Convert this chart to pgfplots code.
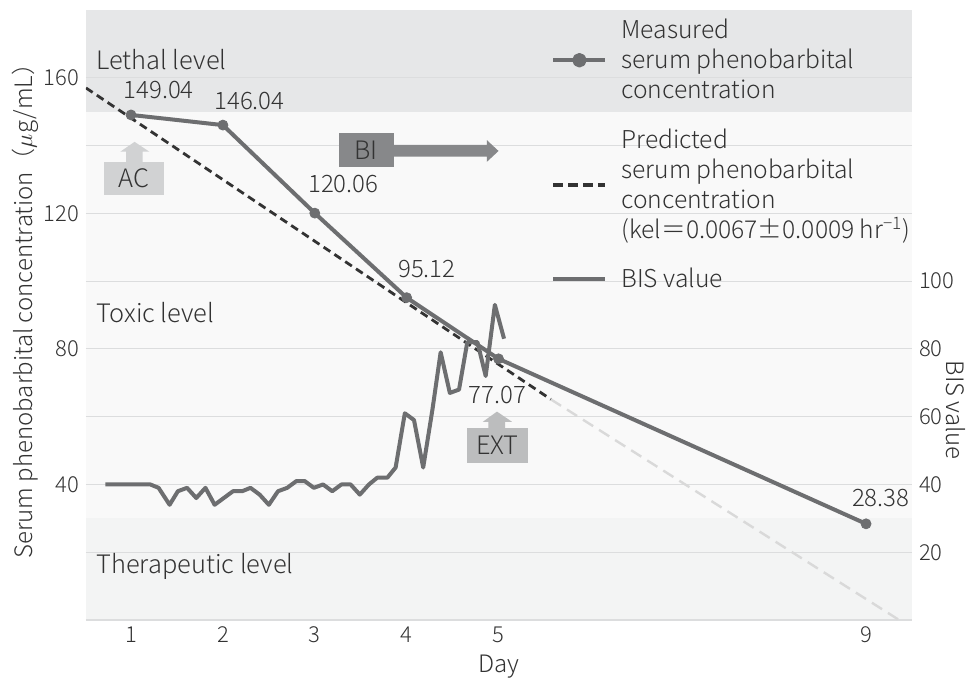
\documentclass[border=0pt]{standalone}
\usepackage{fontspec}
\IfFontExistsTF{Noto Sans CJK JP Light}{\setmainfont{Noto Sans CJK JP Light}}{\setmainfont{Noto Sans CJK JP}}
\usepackage{pgfplots}
\pgfplotsset{compat=1.18}
\definecolor{txt}{HTML}{333333}
\definecolor{lethal}{HTML}{E6E7E8}
\definecolor{toxic}{HTML}{F9F9F9}
\definecolor{thera}{HTML}{F3F4F4}
\definecolor{gridc}{HTML}{DCDDDE}
\definecolor{linec}{HTML}{6D6E70}
\definecolor{acbox}{HTML}{D1D2D3}
\definecolor{extbox}{HTML}{BCBDBE}
\definecolor{bibox}{HTML}{87888A}
\definecolor{pred}{HTML}{333333}
\definecolor{predlight}{HTML}{D9D9D9}

\begin{document}
\begin{tikzpicture}[font=\fontsize{12}{15}\selectfont, text=txt]
\begin{axis}[
  name=main,
  set layers=standard,
  width=413pt, height=305pt, scale only axis,
  xmin=0.51, xmax=9.5, ymin=0, ymax=180,
  axis line style={draw=none},
  tick style={draw=none},
  xtick={1,2,3,4,5,9},
  ytick={0,20,...,160},
  yticklabels={,,40,,80,,120,,160},
  ymajorgrids=true,
  grid style={gridc, line width=0.6pt},
  /pgf/number format/assume math mode=true,
  ticklabel style={font=\fontsize{11}{13}\selectfont, text=txt},
  xlabel={Day},
  xlabel style={at={(rel axis cs:0.5,-0.077)}, anchor=center},
  ylabel={Serum phenobarbital concentration（$\mu$g/mL）},
  ylabel style={at={(rel axis cs:-0.0738,0.516)}, anchor=center},
  legend cell align=left,
  legend style={draw=none, fill=none, at={(rel axis cs:0.563,0.986)}, anchor=north west,
    inner sep=0pt, row sep=13.5pt, column sep=7pt,
    nodes={inner sep=0pt},
    cells={anchor=west, align=left},
    font=\fontsize{12.3}{15}\selectfont, text=txt},
]
\begin{pgfonlayer}{axis background}
\fill[thera] (axis cs:0.51,0) rectangle (axis cs:9.5,30);
\fill[toxic] (axis cs:0.51,30) rectangle (axis cs:9.5,150);
\fill[lethal] (axis cs:0.51,150) rectangle (axis cs:9.5,180);
\end{pgfonlayer}

% measured
\addplot[linec, line width=2pt, line join=round, mark=*, mark size=2.5pt,
  mark options={solid, fill=linec, draw=linec, line width=0.4pt},
  legend image code/.code={\draw[linec, line width=2pt] (0pt,0pt)--(26pt,0pt); \fill[linec] (13pt,0pt) circle (2.6pt);}]
  coordinates {(1,149.04)(2,146.04)(3,120.06)(4,95.12)(5,77.07)(9,28.38)};
\addlegendentry{Measured\\serum phenobarbital\\concentration}

% predicted
\addplot[pred, line width=1.4pt, dash pattern=on 4pt off 2.5pt,
  legend image code/.code={\draw[pred, line width=2pt, dash pattern=on 5pt off 2.4pt] (0pt,0pt)--(26pt,0pt);}]
  coordinates {(0.51,157.0)(5.57,65.1)};
\addlegendentry{Predicted\\serum phenobarbital\\concentration\\(kel＝0.0067±0.0009 hr\textsuperscript{−1})}
\addplot[predlight, line width=1.2pt, dash pattern=on 6pt off 3.5pt, forget plot]
  coordinates {(5.57,65.1)(9.36,0)};

% BIS
\addplot[linec, line width=2pt, line join=round,
  legend image code/.code={\draw[linec, line width=2pt] (0pt,0pt)--(26pt,0pt);}]
  coordinates {(0.72,40)(0.82,40)(0.92,40)(1.01,40)(1.11,40)(1.21,40)(1.30,39)(1.42,34)(1.51,38)(1.61,39)(1.71,36)(1.81,39)(1.91,34)(2.01,36)(2.11,38)(2.21,38)(2.30,39)(2.40,37)(2.50,34)(2.60,38)(2.70,39)(2.80,41)(2.89,41)(2.99,39)(3.09,40)(3.19,38)(3.29,40)(3.39,40)(3.49,37)(3.59,40)(3.68,42)(3.79,42)(3.88,45)(3.98,61)(4.08,59)(4.18,45)(4.28,62)(4.37,79)(4.47,67)(4.57,68)(4.66,82)(4.77,82)(4.86,72)(4.96,93)(5.06,83)};
\addlegendentry{BIS value}

% data labels
\node at (axis cs:1.30,156.4) {149.04};
\node at (axis cs:2.29,153.1) {146.04};
\node at (axis cs:3.31,128.6) {120.06};
\node at (axis cs:4.22,103.6) {95.12};
\node at (axis cs:4.99,66.4) {77.07};
\node at (axis cs:9.16,36.0) {28.38};

% zone labels
\begin{scope}[font=\fontsize{12.7}{15}\selectfont]
\node[anchor=west, inner sep=0pt] at (axis cs:0.62,165.5) {Lethal level};
\node[anchor=west, inner sep=0pt] at (axis cs:0.62,90.6) {Toxic level};
\node[anchor=west, inner sep=0pt] at (axis cs:0.62,15.9) {Therapeutic level};
\end{scope}

% AC
\fill[acbox] (axis cs:0.702,125.4) rectangle (axis cs:1.355,135.2);
\fill[acbox] (axis cs:0.946,135.0) -- (axis cs:0.946,138.2) -- (axis cs:0.884,138.2) -- (axis cs:1.039,141.1) -- (axis cs:1.199,138.2) -- (axis cs:1.126,138.2) -- (axis cs:1.126,135.0) -- cycle;
\node[font=\fontsize{12.7}{15}\selectfont] at (axis cs:1.029,130.3) {AC};

% BI
\fill[bibox] (axis cs:3.259,133.8) rectangle (axis cs:3.857,143.6);
\fill[bibox] (axis cs:3.85,136.7) -- (axis cs:4.873,136.7) -- (axis cs:4.873,135.2) -- (axis cs:5.0,138.4) -- (axis cs:4.873,141.6) -- (axis cs:4.873,140.2) -- (axis cs:3.85,140.2) -- cycle;
\node[font=\fontsize{12.7}{15}\selectfont] at (axis cs:3.558,138.7) {BI};

% EXT
\fill[extbox] (axis cs:4.656,46.4) rectangle (axis cs:5.320,56.6);
\fill[extbox] (axis cs:4.888,56.4) -- (axis cs:4.888,58.5) -- (axis cs:4.830,58.5) -- (axis cs:4.983,61.5) -- (axis cs:5.146,58.5) -- (axis cs:5.073,58.5) -- (axis cs:5.073,56.4) -- cycle;
\node[font=\fontsize{12.7}{15}\selectfont] at (axis cs:4.988,51.5) {EXT};
\end{axis}

\begin{axis}[
  width=413pt, height=305pt, scale only axis,
  xmin=0.51, xmax=9.5, ymin=0, ymax=180,
  axis x line=none, axis y line*=right,
  axis line style={draw=none},
  tick style={draw=none},
  ytick={20,40,60,80,100},
  /pgf/number format/assume math mode=true,
  ticklabel style={font=\fontsize{11}{13}\selectfont, text=txt},
  ylabel={BIS value},
  ylabel style={at={(rel axis cs:1.0412,0.344)}, rotate=180, anchor=base},
]
\end{axis}

\pgfresetboundingbox
\path[use as bounding box] ([shift={(-43pt,-30.5pt)}]main.south west) rectangle ([shift={(28.5pt,5pt)}]main.north east);
\end{tikzpicture}
\end{document}
